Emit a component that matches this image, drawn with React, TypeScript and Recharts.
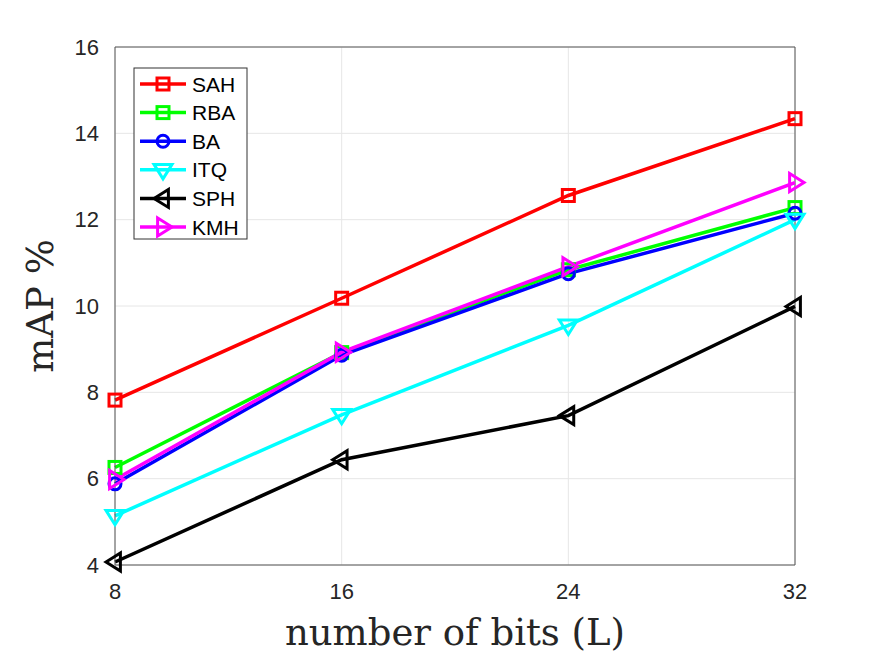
import { LineChart, Line, XAxis, YAxis, CartesianGrid, ReferenceLine } from 'recharts';

const bits = [8, 16, 24, 32];
const sah = [7.82, 10.18, 12.56, 14.34];
const rba = [6.26, 8.92, 10.84, 12.28];
const ba = [5.88, 8.86, 10.75, 12.15];
const itq = [5.14, 7.48, 9.55, 12.0];
const sph = [4.07, 6.44, 7.46, 9.99];
const kmh = [5.98, 8.93, 10.91, 12.86];
const yTicks = [4, 6, 8, 10, 12, 14, 16];

const data = bits.map((b, i) => ({
  bits: b,
  SAH: sah[i],
  RBA: rba[i],
  BA: ba[i],
  ITQ: itq[i],
  SPH: sph[i],
  KMH: kmh[i],
}));

type Shape = 'square' | 'circle' | 'down' | 'left' | 'right';

const series: { key: string; color: string; shape: Shape }[] = [
  { key: 'SAH', color: '#ff0000', shape: 'square' },
  { key: 'RBA', color: '#00ff00', shape: 'square' },
  { key: 'BA', color: '#0000ff', shape: 'circle' },
  { key: 'ITQ', color: '#00ffff', shape: 'down' },
  { key: 'SPH', color: '#000000', shape: 'left' },
  { key: 'KMH', color: '#ff00ff', shape: 'right' },
];

const marker = (shape: Shape, color: string, cx: number, cy: number, k: string) => {
  const common = { fill: 'none', stroke: color, strokeWidth: 3, key: k };
  if (shape === 'square') return <rect {...common} x={cx - 6} y={cy - 6} width={12} height={12} />;
  if (shape === 'circle') return <circle {...common} cx={cx} cy={cy} r={6} />;
  const s = 9;
  let pts = '';
  if (shape === 'down') pts = `${cx - s},${cy - s * 0.6} ${cx + s},${cy - s * 0.6} ${cx},${cy + s}`;
  if (shape === 'left') pts = `${cx - s},${cy} ${cx + s * 0.6},${cy - s} ${cx + s * 0.6},${cy + s}`;
  if (shape === 'right') pts = `${cx + s},${cy} ${cx - s * 0.6},${cy - s} ${cx - s * 0.6},${cy + s}`;
  return <polygon {...common} points={pts} strokeLinejoin="miter" />;
};

const LegendBox = () => (
  <svg width={116} height={174} style={{ display: 'block' }}>
    <rect x={1} y={1} width={113} height={171} fill="#fff" stroke="#333" strokeWidth={1} />
    {series.map((s, i) => {
      const y = 17 + i * 28.6;
      return (
        <g key={s.key}>
          <line x1={7} x2={53} y1={y} y2={y} stroke={s.color} strokeWidth={3.5} />
          {marker(s.shape, s.color, 30, y, 'm' + s.key)}
          <text x={59} y={y + 7.5} fontSize={21} fontFamily="Liberation Sans, Arial, sans-serif" fill="#000">
            {s.key}
          </text>
        </g>
      );
    })}
  </svg>
);

export default function App() {
  return (
    <div style={{ position: 'absolute', left: 0, top: 0, width: 875, height: 657, background: '#fff' }}>
      <LineChart width={875} height={657} data={data} margin={{ top: 47, right: 80, left: 0, bottom: 0 }}>
        <CartesianGrid stroke="#e6e6e6" strokeWidth={1} />
        <XAxis
          dataKey="bits"
          type="number"
          domain={[8, 32]}
          ticks={bits}
          height={92}
          stroke="#555"
          tickLine={false}
          tick={{ fill: '#262626', fontSize: 22, fontFamily: 'Liberation Sans, Arial, sans-serif' }}
          tickMargin={12}
          label={{ value: 'number of bits (L)', position: 'insideBottom', offset: 12, fontSize: 37, fill: '#262626', fontFamily: 'DejaVu Serif, Liberation Serif, serif' }}
        />
        <YAxis
          type="number"
          domain={[4, 16]}
          ticks={yTicks}
          width={115}
          stroke="#555"
          tickLine={false}
          tick={{ fill: '#262626', fontSize: 22, fontFamily: 'Liberation Sans, Arial, sans-serif' }}
          tickMargin={10}
          label={{ value: 'mAP %', angle: -90, position: 'insideLeft', offset: 40, fontSize: 37, fill: '#262626', fontFamily: 'DejaVu Serif, Liberation Serif, serif', style: { textAnchor: 'middle' } }}
        />
        <ReferenceLine y={16} stroke="#555" />
        <ReferenceLine x={32} stroke="#555" />
        {series.map((s) => (
          <Line
            key={s.key}
            dataKey={s.key}
            stroke={s.color}
            strokeWidth={3.5}
            isAnimationActive={false}
            dot={(p: any) => marker(s.shape, s.color, p.cx, p.cy, `${s.key}-${p.index}`)}
            activeDot={false}
          />
        ))}
      </LineChart>
      <div style={{ position: 'absolute', left: 133, top: 67 }}>
        <LegendBox />
      </div>
    </div>
  );
}
